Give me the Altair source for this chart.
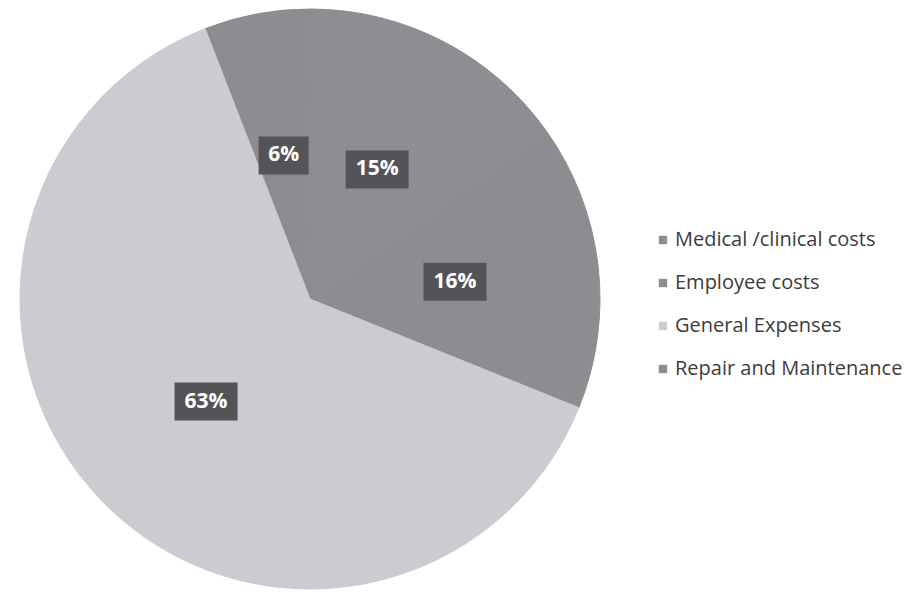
import math
import altair as alt
import pandas as pd

# ---- data ----
categories = ["Repair and Maintenance", "Medical /clinical costs", "Employee costs", "General Expenses"]
values = [6, 15, 16, 63]
labels = ["6%", "15%", "16%", "63%"]
legend_order = ["Medical /clinical costs", "Employee costs", "General Expenses", "Repair and Maintenance"]
legend_colors = ["#8d8d92", "#8c8c91", "#cbcbd1", "#8c8c91"]

# ---- layout constants ----
CX, CY, R = 310, 299, 290
LABEL_R = 146
START = -21.2 * math.pi / 180

df = pd.DataFrame({"category": categories, "value": values, "label": labels,
                   "order": list(range(len(categories)))})

base = alt.Chart(df)

pie = base.mark_arc(outerRadius=R, strokeWidth=1).encode(
    theta=alt.Theta("value:Q", stack=True,
                    scale=alt.Scale(domain=[0, sum(values)], range=[START, START + 2 * math.pi])),
    color=alt.Color("category:N",
                    scale=alt.Scale(domain=legend_order, range=legend_colors),
                    legend=alt.Legend(orient="none", legendX=653, legendY=230, title=None,
                                      symbolType="square", symbolSize=70, symbolStrokeWidth=0,
                                      labelFontSize=20, labelFont="Open Sans", labelColor="#3c3c3c",
                                      rowPadding=23, labelOffset=2, labelLimit=0)),
    stroke=alt.Stroke("category:N", scale=alt.Scale(domain=legend_order, range=legend_colors),
                      legend=None),
    order=alt.Order("order:Q"),
    x=alt.value(CX), y=alt.value(CY),
)

pos = base.transform_window(
    cum="sum(value)", sort=[alt.SortField("order")], frame=[None, 0]
).transform_joinaggregate(total="sum(value)").transform_calculate(
    mid=f"{START} + 2*PI*(datum.cum - datum.value/2)/datum.total"
).transform_calculate(
    lx=f"{CX} + {LABEL_R}*sin(datum.mid)",
    ly=f"{CY} - {LABEL_R}*cos(datum.mid)",
    w="24 + 13*length(datum.label)",
).transform_calculate(
    x1="datum.lx - datum.w/2", x2="datum.lx + datum.w/2",
    y1="datum.ly - 19", y2="datum.ly + 19",
)

boxes = pos.mark_rect(color="#545458").encode(
    x=alt.X("x1:Q", scale=None), x2="x2:Q",
    y=alt.Y("y1:Q", scale=None), y2="y2:Q",
)

texts = pos.mark_text(color="white", font="Open Sans", fontWeight="bold", fontSize=21,
                      align="center", baseline="middle").encode(
    x=alt.X("lx:Q", scale=None), y=alt.Y("ly:Q", scale=None), text="label:N",
)

chart = alt.layer(pie, boxes, texts).properties(
    width=912, height=596, autosize="none", padding=0, background="white"
).configure_view(stroke=None)

chart.save("out.html", embed_options={"renderer": "svg", "actions": False})
